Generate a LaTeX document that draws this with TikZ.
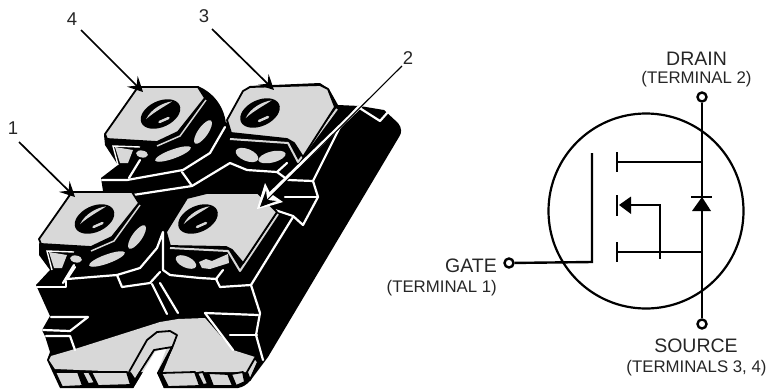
\documentclass[tikz,border=0pt]{standalone}
\usepackage{fontspec}
\setmainfont{Liberation Sans}
\usetikzlibrary{arrows.meta}
\definecolor{padgray}{HTML}{D8D8D8}
\tikzset{
  gr/.style={fill=padgray,draw=black,line width=1.8pt,line join=round},
  wl/.style={draw=white,line width=2.2pt,line join=round,line cap=round},
  bl/.style={draw=black,line width=1.8pt,line join=round},
  sym/.style={draw=black,line width=2.4pt},
  symthin/.style={draw=black,line width=2pt},
  term/.style={circle,draw=black,line width=2.4pt,fill=white,minimum size=9pt,inner sep=0pt},
  big/.style={font=\fontsize{19.5pt}{21pt}\selectfont,text=black!85},
  small/.style={font=\fontsize{16.8pt}{18pt}\selectfont,text=black!85},
  num/.style={font=\fontsize{18.5pt}{20pt}\selectfont,text=black!85},
  lead/.style={draw=black,line width=1.7pt,-{Stealth[length=15pt,width=15pt,inset=6pt]}}
}
\newcommand{\holeat}[2]{%
  \fill[black,rotate around={25:(#1,#2)}] (#1,#2) ellipse [x radius=21pt,y radius=13pt];
  \fill[padgray,rotate around={27:(#1,#2)}] (#1-15,#2-2) .. controls (#1-6,#2-9) and (#1+8,#2-9) .. (#1+16,#2-6) .. controls (#1+10,#2-5) and (#1-4,#2-5) .. (#1-15,#2-2) -- cycle;
  \draw[padgray,line width=2.4pt,line cap=round] (#1-1,#2+8) -- (#1+8,#2+4);
}
\newcommand{\padA}[2]{%
  \begin{scope}[shift={(#1,#2)}]
    \draw[wl] (140,160) -- (129,178);
    \fill[padgray] (115,147) -- (120,163) -- (128,163) -- (133,150) -- cycle;
    \draw[white,line width=1.4pt] (118,165) -- (113,146) -- (140,147);
    \draw[padgray,line width=1.5pt] (157,146) -- (180,136) -- (206,100);
    \path[gr] (138,87) -- (198,87) -- (205,98) -- (178,132) -- (157,142) -- (107,139) -- (105,134) -- cycle;
    \holeat{160.5}{114}
    \fill[padgray,rotate around={55:(203,132)}] (203,132) ellipse [x radius=14pt,y radius=5pt];
    \fill[padgray,rotate around={20:(173,154)}] (173,154) ellipse [x radius=19pt,y radius=4.5pt];
    \fill[padgray,rotate around={-10:(142,154)}] (142,154) ellipse [x radius=6pt,y radius=3.5pt];
  \end{scope}
}
\begin{document}
\begin{tikzpicture}[x=1pt,y=-1pt]
\useasboundingbox (0,0) rectangle (768,389);
% body silhouette
\fill[black,line join=round] (138,86) -- (198,86) .. controls (212,92) and (224,105) .. (226,124) -- (228,117) -- (243,91) -- (250,86) -- (320,83) -- (329,89) -- (338,105) -- (360,106) -- (384,110) -- (398,123) .. controls (402,128) and (402,133) .. (399,137) -- (268,357) -- (250,381) .. controls (246,385) and (243,387) .. (238,388) -- (60,388) -- (47,360) -- (50,352) -- (45,336) -- (42,330) -- (50,316) -- (36,285) -- (50,270) -- (39,255) -- (39,244) -- (70,193) -- (103,191) -- (101,178) -- (118,165) -- (105,145) -- (104,135) -- cycle;
% base top face
\fill[padgray] (51,356) -- (75,349) -- (160,322) -- (178,319) -- (205,318) -- (233,350) -- (255,357) -- (247,372) -- (163,372) -- (176,340) -- (150,340) -- (129,372) -- (55,369) -- (49,360) -- cycle;
% notch
\path[gr] (129,372) -- (147,340) -- (157,332) -- (170,331) -- (177,335) -- (172,348) -- (160,372);
\fill[white] (133,389) -- (155,352) -- (167,347) -- (157,373) -- (164,389) -- cycle;
\draw[bl] (132,384) -- (154,350) -- (172,347) -- (158,373) -- (166,387);
\fill[padgray] (149,343) -- (158,335) -- (170,334) -- (174,337) -- (170,345) -- (154,347) -- (135,378) -- (131,372) -- cycle;
% bottom faces
\path[gr] (55,372) -- (62,387) -- (83,386) -- (78,372) -- cycle;
\path[gr] (82,372) -- (88,384) -- (95,383) -- (89,372) -- cycle;
\path[gr] (91,372) -- (98,386) -- (131,385) -- (127,372) -- cycle;
\path[gr] (161,373) -- (168,387) -- (200,386) -- (195,372) -- cycle;
\path[gr] (197,373) -- (203,385) -- (208,384) -- (203,372) -- cycle;
\path[gr] (208,373) -- (213,386) -- (233,386) -- (228,374) -- cycle;
\path[gr] (231,374) -- (236,386) -- (245,382) -- (243,372) -- cycle;
\path[gr] (247,372) -- (255,358) -- (258,362) -- (250,380) -- cycle;
% white lines, left
\draw[wl] (37,287) -- (66,287) -- (66,281);
\draw[wl] (75,267) -- (67,279) -- (117,275) -- (140,268) -- (157,248) -- (163,232) -- (163,270);
\draw[wl] (117,275) -- (122,287) -- (150,283) -- (160,272);
\draw[wl] (152,284) -- (167,314);
\draw[wl] (160,283) -- (178,313);
\draw[wl] (163,270) -- (170,275) -- (200,278) -- (217,279);
\draw[wl] (51,317) -- (88,317) -- (70,331) -- (43,330);
\draw[wl] (46,336) -- (70,336) -- (75,350);
% white lines, upper
\draw[wl] (102,180) -- (127,180) -- (183,170) -- (210,153) -- (225,127);
\draw[wl] (182,172) -- (192,186);
\draw[wl] (133,195) -- (192,186) -- (230,163) -- (247,170) -- (277,172) -- (287,163);
\draw[wl] (277,172) -- (288,180) -- (313,181) -- (340,127) -- (358,107) -- (380,121) -- (388,112);
\draw[wl] (285,197) -- (318,197);
\draw[wl] (313,181) -- (318,197) -- (303,225) -- (293,216) -- (275,210);
\draw[wl] (293,217) -- (251,285) -- (220,287) -- (216,279) -- (223,270);
\draw[wl] (251,285) -- (260,313) -- (256,335) -- (263,360);
\draw[wl] (205,313) -- (258,315);
\draw[wl] (205,313) -- (233,350);
\draw[wl] (230,335) -- (257,335);
% pads 4 and 1
\padA{0}{0}
\padA{-66}{105}
% pad 3
\draw[padgray,line width=2pt,line join=round] (230,139) -- (288,143) -- (298,162) -- (337,109);
\path[gr] (243,91) -- (250,87) -- (320,85) -- (328,89) -- (335,107) -- (303,157) -- (294,143) -- (287,139) -- (231,133) -- (227,120) -- cycle;
\holeat{260}{113}
\fill[padgray,rotate around={-22:(247,155)}] (247,155) ellipse [x radius=12pt,y radius=6pt];
\fill[padgray,rotate around={14:(272,157)}] (272,157) ellipse [x radius=14pt,y radius=5.5pt];
% pad 2
\draw[padgray,line width=2pt,line join=round] (170,248) -- (228,251) -- (240,271) -- (278,214);
\path[gr] (187,198) -- (207,193) -- (258,193) -- (277,212) -- (243,263) -- (232,250) -- (226,247) -- (170,246) -- (166,232) -- cycle;
\holeat{198}{219}
\fill[padgray,rotate around={-25:(186,262)}] (186,262) ellipse [x radius=11pt,y radius=5.5pt];
\fill[padgray] (199,262) -- (206,259) -- (212,261) -- (228,254) -- (229,263) -- (210,269) -- (202,268) -- cycle;
% labels
\node[num] (n4) at (72,19) {4};
\node[num] (n3) at (204,16) {3};
\node[num] (n2) at (408,58) {2};
\node[num] (n1) at (13,128) {1};
\coordinate (t4) at (143,92);
\coordinate (t3) at (274,90);
\coordinate (t1) at (75,197);
\coordinate (s4) at (81,30);
\coordinate (s3) at (212,29);
\coordinate (s1) at (19,142);
\coordinate (s2) at (402,66);
\coordinate (t2) at (260,207);
\draw[lead] (s4) -- (t4);
\draw[lead] (s3) -- (t3);
\draw[lead] (s1) -- (t1);
% arrow 2 with white halo
\fill[white] (257,209) -- (265,183) -- (270,193) -- (283,202) -- (273,205) -- cycle;
\draw[white,line width=3.4pt] (s2) ++(-18,17.5) -- (270,194);
\draw[draw=black,line width=1.1pt,-{Stealth[length=16pt,width=15pt,inset=6pt]}] (s2) -- (t2);
% symbol
\node[circle,draw=black,line width=2.2pt,minimum size=195pt,inner sep=0pt] (ring) at (646,211) {};
\node[term] (dterm) at (702,97) {};
\node[term] (sterm) at (702,324) {};
\node[term] (gterm) at (509,263) {};
\coordinate (gc) at (592,262);
\coordinate (gt) at (592,153);
\draw[sym,line join=miter] (gterm) -- (gc) -- (gt);
\draw[sym] (dterm) -- (sterm);
\draw[sym] (617,152) -- (617,172);
\draw[sym] (617,195) -- (617,216);
\draw[sym] (617,242) -- (617,262);
\draw[symthin] (617,162) -- (702,162);
\draw[symthin] (617,252) -- (702,252);
\draw[symthin] (628,205) -- (660,205) -- (660,259);
\fill[black] (619,205) -- (631,196.5) -- (631,214) -- cycle;
\draw[symthin] (691,197) -- (712,197);
\fill[black] (702,197) -- (692,211) -- (711,211) -- cycle;
\node[big,anchor=base,inner sep=0pt] (drain) at (696.5,65) {DRAIN};
\node[small,anchor=base,inner sep=0pt] (drain2) at (696.5,83) {(TERMINAL 2)};
\node[big,anchor=base,inner sep=0pt] (source) at (696,352) {SOURCE};
\node[small,anchor=base,inner sep=0pt] (source2) at (696.5,372) {(TERMINALS 3, 4)};
\node[big,anchor=base east,inner sep=0pt] (gate) at (497,272) {GATE};
\node[small,anchor=base east,inner sep=0pt] (gate2) at (497,292) {(TERMINAL 1)};
\end{tikzpicture}
\end{document}
